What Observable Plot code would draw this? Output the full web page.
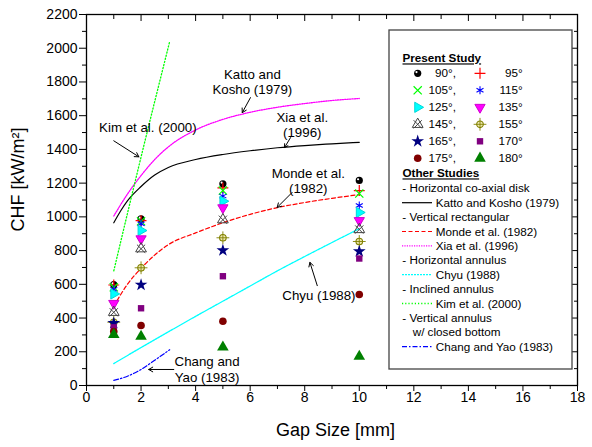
<!DOCTYPE html>
<html><head><meta charset="utf-8">
<script src="https://cdn.jsdelivr.net/npm/d3@7"></script>
<script src="https://cdn.jsdelivr.net/npm/@observablehq/plot@0.6"></script>
<style>body{margin:0;background:#fff} #chart svg{display:block}</style>
</head><body><div id="chart"></div>
<script>
// ---- data ----
const gaps = [1, 2, 5, 10];
const angles = [90, 95, 105, 115, 125, 135, 145, 155, 165, 170, 175, 180];
const chf90  = [598, 988, 1196, 1216];
const chf95  = [596, 978, 1172, 1156];
const chf105 = [582, 974, 1156, 1138];
const chf115 = [570, 959, 1123, 1067];
const chf125 = [543, 919, 1093, 1026];
const chf135 = [487, 870, 1054, 978];
const chf145 = [434, 811, 983, 925];
const chf155 = [375, 698, 876, 854];
const chf165 = [370, 597, 801, 795];
const chf170 = [345, 458, 648, 753];
const chf175 = [320, 356, 381, 540];
const chf180 = [302, 291, 227, 172];
const chfByAngle = {90: chf90, 95: chf95, 105: chf105, 115: chf115, 125: chf125, 135: chf135,
  145: chf145, 155: chf155, 165: chf165, 170: chf170, 175: chf175, 180: chf180};

const kattoGap = [1, 1.25, 1.5, 2, 2.5, 3, 4, 5, 6, 7, 8, 9, 10];
const kattoCHF = [965, 1035, 1095, 1180, 1248, 1293, 1340, 1370, 1392, 1410, 1423, 1433, 1442];
const xiaGap = [1, 1.5, 2, 2.5, 3, 4, 5, 6, 7, 8, 9, 10];
const xiaCHF = [1005, 1135, 1245, 1340, 1415, 1515, 1578, 1620, 1650, 1672, 1690, 1702];
const kimGap = [1, 2, 3.05];
const kimCHF = [680, 1355, 2040];
const mondeGap = [1, 1.5, 2, 3, 4, 5, 6, 7, 8, 9, 10];
const mondeCHF = [470, 600, 695, 835, 905, 965, 1015, 1055, 1085, 1110, 1132];
const chyuGap = [1, 2, 3, 4, 5, 6, 7, 8, 9, 10];
const chyuCHF = [130, 225, 318, 410, 500, 590, 680, 765, 848, 930];
const changGap = [1, 1.5, 2, 2.5, 3.05];
const changCHF = [30, 55, 95, 150, 212];

const xMajor = [0, 2, 4, 6, 8, 10, 12, 14, 16, 18];
const xMinor = [1, 3, 5, 7, 9, 11, 13, 15, 17];
const yMajor = [0, 200, 400, 600, 800, 1000, 1200, 1400, 1600, 1800, 2000, 2200];
const yMinor = [100, 300, 500, 700, 900, 1100, 1300, 1500, 1700, 1900, 2100];

const annotLabels = ["Katto and\nKosho (1979)", "Xia et al.\n(1996)", "Kim et al. (2000)", "Monde et al.\n(1982)", "Chyu (1988)"];
const annotX = [6.08, 7.91, 2.25, 8.13, 8.52];
const annotY = [1803, 1546, 1530, 1216, 533];
const changLabel = ["Chang and\nYao (1983)"];
const changLabelX = [4.42];
const changLabelY = [99];
const arrowX1 = [6.01, 7.48, 1.0, 7.54, 8.46, 3.2];
const arrowY1 = [1707, 1470, 1451, 1145, 592, 95];
const arrowX2 = [5.71, 7.26, 1.92, 6.99, 8.19, 2.28];
const arrowY2 = [1618, 1411, 1356, 1056, 730, 95];

// ---- styles ----
const markerStyles = {
  90: [{symbol: "circle", fill: "black", r: 3.6}, {symbol: "circle", fill: "white", r: 1.1, dx: -1.2, dy: -1.2}],
  95: [{symbol: "plus", stroke: "#ff0000", r: 3.6, strokeWidth: 1.2}],
  105: [{symbol: "times", stroke: "#00ff00", r: 3.8, strokeWidth: 1.2}],
  115: [{symbol: "asterisk", stroke: "#0000ff", r: 3.8, strokeWidth: 1.1}],
  125: [{symbol: "triangle", fill: "#00ffff", stroke: "#00d8d8", r: 3.8, rotate: 90}],
  135: [{symbol: "triangle", fill: "#ff00ff", stroke: "#d000d0", r: 3.8, rotate: 180}],
  145: [{symbol: "times", stroke: "#444", r: 3.8, strokeWidth: 1}, {symbol: "triangle", fill: "none", stroke: "#444", r: 4}],
  155: [{symbol: "circle", fill: "#efe9b0", stroke: "#808000", r: 3.3, strokeWidth: 1.1}, {symbol: "plus", stroke: "#808000", r: 4.2, strokeWidth: 0.9}],
  165: [{symbol: "star", fill: "#000080", r: 4}],
  170: [{symbol: "square", fill: "#800080", r: 3.6}],
  175: [{symbol: "circle", fill: "#800000", r: 3.8}],
  180: [{symbol: "triangle", fill: "#008000", r: 4.3}]
};
const lineStyles = {
  katto: {stroke: "black", strokeWidth: 1.2},
  monde: {stroke: "#ff0000", strokeDasharray: "4,2.5", strokeWidth: 1.2},
  xia: {stroke: "#ff00ff", strokeDasharray: "1.2,1.2", strokeWidth: 1.3},
  chyu: {stroke: "#00ffff", strokeDasharray: "2,1", strokeWidth: 1.3},
  kim: {stroke: "#00ff00", strokeDasharray: "1.2,2", strokeWidth: 1.3},
  chang: {stroke: "#0000ff", strokeDasharray: "5,2,1.5,2", strokeWidth: 1.2}
};
const lineSets = {
  katto: [kattoGap, kattoCHF], xia: [xiaGap, xiaCHF], kim: [kimGap, kimCHF],
  monde: [mondeGap, mondeCHF], chyu: [chyuGap, chyuCHF], chang: [changGap, changCHF]
};

const FONT = "'Liberation Sans', Arial, Helvetica, sans-serif";

// ---- marks ----
const lineMarks = Object.entries(lineSets).map(([k, [gx, gy]]) =>
  Plot.line(gx.map((g, i) => ({x: g, y: gy[i]})), {x: "x", y: "y", curve: "monotone-x", ...lineStyles[k]}));

const dotMarks = [];
for (const a of angles) {
  const pts = gaps.map((g, i) => ({x: g, y: chfByAngle[a][i]}));
  for (const s of markerStyles[a]) {
    dotMarks.push(Plot.dot(pts, {x: "x", y: "y", symbol: s.symbol, r: s.r,
      fill: s.fill || "none", stroke: s.stroke || "none", strokeWidth: s.strokeWidth || 1,
      rotate: s.rotate || 0, dx: s.dx || 0, dy: s.dy || 0}));
  }
}

const plot = Plot.plot({
  width: 592, height: 447,
  marginLeft: 86, marginRight: 15, marginTop: 14, marginBottom: 62,
  style: {fontFamily: FONT, fontSize: "14px", color: "black", background: "white", overflow: "visible"},
  x: {domain: [0, 18]},
  y: {domain: [0, 2200]},
  marks: [
    Plot.axisX({ticks: xMajor, tickSize: 6, tickPadding: 1, label: null, fontSize: 14, tickFormat: d => String(d)}),
    Plot.axisX({ticks: xMinor, tickSize: 4, text: null, label: null}),
    Plot.axisX({ticks: xMajor, anchor: "top", tickSize: -6, text: null, label: null}),
    Plot.axisX({ticks: xMinor, anchor: "top", tickSize: -4, text: null, label: null}),
    Plot.axisY({ticks: yMajor, tickSize: 7, tickPadding: 2, label: null, fontSize: 14, tickFormat: d => String(d)}),
    Plot.axisY({ticks: yMinor, tickSize: 4, text: null, label: null}),
    Plot.axisY({ticks: yMajor, anchor: "right", tickSize: -6, text: null, label: null}),
    Plot.axisY({ticks: yMinor, anchor: "right", tickSize: -4, text: null, label: null}),
    Plot.frame({stroke: "black", strokeWidth: 1.3}),
    ...lineMarks,
    ...dotMarks,
    Plot.text(annotLabels, {x: (d, i) => annotX[i], y: (d, i) => annotY[i], text: d => d,
      fontSize: 13.3, lineHeight: 1.13, fill: "black"}),
    Plot.text(changLabel, {x: (d, i) => changLabelX[i], y: (d, i) => changLabelY[i], text: d => d,
      fontSize: 13.3, lineHeight: 1.25, fill: "black"}),
    Plot.arrow(arrowX1, {x1: d => d, y1: (d, i) => arrowY1[i], x2: (d, i) => arrowX2[i], y2: (d, i) => arrowY2[i],
      stroke: "black", strokeWidth: 1, headLength: 7}),
    Plot.text(["Gap Size [mm]"], {frameAnchor: "bottom", dx: 3.5, dy: 50, fontSize: 18, text: d => d}),
    Plot.text(["CHF [kW/m²]"], {frameAnchor: "left", dx: -68.5, dy: 31.5, rotate: -90, fontSize: 18, text: d => d})
  ]
});
document.getElementById("chart").appendChild(plot);

// ---- legend ----
const symbolTypes = {circle: d3.symbolCircle, plus: d3.symbolPlus, times: d3.symbolTimes,
  asterisk: d3.symbolAsterisk, triangle: d3.symbolTriangle, star: d3.symbolStar, square: d3.symbolSquare};
const svg = d3.select(plot);
const lg = svg.append("g").attr("font-family", FONT).attr("font-size", 11.7).attr("fill", "black")
  .attr("text-anchor", "start");
lg.append("rect").attr("x", 389).attr("y", 30).attr("width", 183).attr("height", 339)
  .attr("fill", "white").attr("stroke", "#444").attr("stroke-width", 1.3);

function drawMarker(g, cx, cy, angle) {
  for (const s of markerStyles[angle]) {
    const size = Math.PI * s.r * s.r;
    g.append("path").attr("d", d3.symbol(symbolTypes[s.symbol], size)())
      .attr("transform", `translate(${cx + (s.dx || 0)},${cy + (s.dy || 0)}) rotate(${s.rotate || 0})`)
      .attr("fill", s.fill || "none").attr("stroke", s.stroke || "none")
      .attr("stroke-width", s.strokeWidth || 1);
  }
}

lg.append("text").attr("x", 402.5).attr("y", 58.3).attr("dy", "0.35em").attr("font-weight", "bold")
  .attr("text-decoration", "underline").text("Present Study");
for (let i = 0; i < angles.length; i += 2) {
  const row = i / 2, cy = 73.3 + row * 17;
  drawMarker(lg, 417.7, cy, angles[i]);
  lg.append("text").attr("x", 456).attr("y", cy).attr("dy", "0.35em").attr("text-anchor", "end")
    .text(`${angles[i]}°,`);
  drawMarker(lg, 480, cy, angles[i + 1]);
  lg.append("text").attr("x", 522.7).attr("y", cy).attr("dy", "0.35em").attr("text-anchor", "end")
    .text(`${angles[i + 1]}°`);
}
lg.append("text").attr("x", 402.5).attr("y", 173.3).attr("dy", "0.35em").attr("font-weight", "bold")
  .attr("text-decoration", "underline").text("Other Studies");

const legendRows = [
  {text: "- Horizontal co-axial disk"},
  {key: "katto", text: "Katto and Kosho (1979)"},
  {text: "- Vertical rectangular"},
  {key: "monde", text: "Monde et al. (1982)"},
  {key: "xia", text: "Xia et al. (1996)"},
  {text: "- Horizontal annulus"},
  {key: "chyu", text: "Chyu (1988)"},
  {text: "- Inclined annulus"},
  {key: "kim", text: "Kim et al. (2000)"},
  {text: "- Vertical annulus"},
  {sub: true, text: "w/ closed bottom"},
  {key: "chang", text: "Chang and Yao (1983)"}
];
legendRows.forEach((r, i) => {
  const cy = 188.3 + i * 14.4;
  if (r.key) {
    const st = lineStyles[r.key];
    lg.append("line").attr("x1", 402).attr("x2", 432).attr("y1", cy).attr("y2", cy)
      .attr("stroke", st.stroke).attr("stroke-width", st.strokeWidth)
      .attr("stroke-dasharray", st.strokeDasharray || null);
    lg.append("text").attr("x", 435.7).attr("y", cy).attr("dy", "0.35em").text(r.text);
  } else {
    lg.append("text").attr("x", r.sub ? 412.7 : 402.3).attr("y", cy).attr("dy", "0.35em").text(r.text);
  }
});
</script>
</body></html>
